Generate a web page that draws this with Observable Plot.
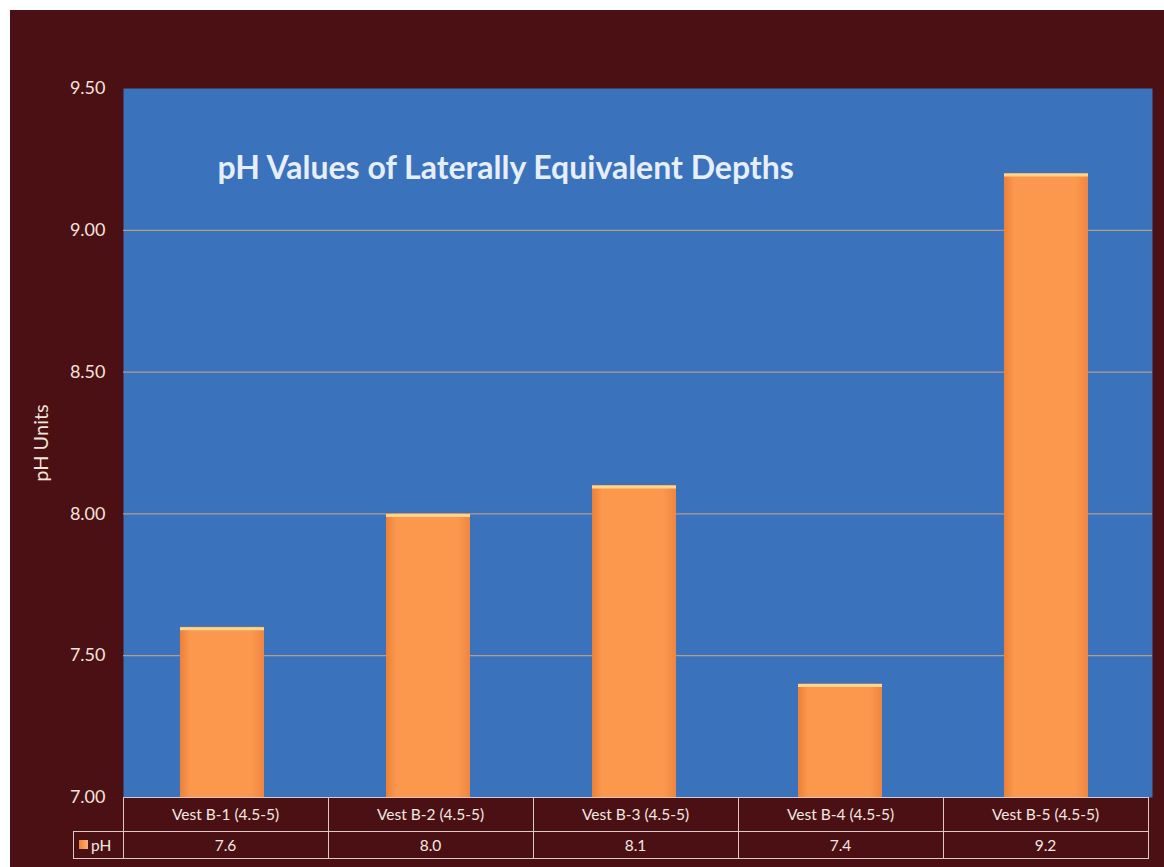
<!DOCTYPE html>
<html>
<head>
<meta charset="utf-8">
<script src="https://cdn.jsdelivr.net/npm/d3@7"></script>
<script src="https://cdn.jsdelivr.net/npm/@observablehq/plot@0.6"></script>
<style>
  body { margin: 0; background: #ffffff; font-family: Lato, "Open Sans", sans-serif; }
  #wrap { position: absolute; left: 10px; top: 10px; width: 1154px; height: 857px; background: #4a1013; overflow: hidden; }
  #wrap svg { position: absolute; left: 0; top: 0; overflow: visible; }
  .cell { position: absolute; box-sizing: border-box; color: #f4e8e2; font-size: 15.5px; display: flex; align-items: center; justify-content: center; }
  .hl { position: absolute; height: 1px; background: #dcc8c4; }
  .vl { position: absolute; width: 1px; background: #dcc8c4; }
</style>
</head>
<body>
<div id="wrap"></div>
<script>
const categories = ["Vest B-1 (4.5-5)", "Vest B-2 (4.5-5)", "Vest B-3 (4.5-5)", "Vest B-4 (4.5-5)", "Vest B-5 (4.5-5)"];
const phValues = [7.6, 8.0, 8.1, 7.4, 9.2];
const yTicks = [7.0, 7.5, 8.0, 8.5, 9.0, 9.5];
const gridValues = [7.5, 8.0, 8.5, 9.0];
const seriesName = "pH";
const chartTitle = "pH Values of Laterally Equivalent Depths";
const yLabel = "pH Units";

const data = categories.map((c, i) => ({cat: c, v: phValues[i]}));

const W = 1154, H = 800;
const mL = 113, mR = 12, mT = 78, mB = 13;
const plot = Plot.plot({
  width: W,
  height: H,
  marginLeft: mL,
  marginRight: mR,
  marginTop: mT,
  marginBottom: mB,
  style: {background: "transparent", color: "#f2e4dc", fontFamily: "Lato, 'Open Sans', sans-serif"},
  x: {domain: categories, range: [mL - 4, W - mR - 3], paddingInner: 0.59, paddingOuter: 0.295, axis: null},
  y: {domain: [7, 9.5]},
  marks: [
    Plot.frame({fill: "#3a72bb", stroke: "none"}),
    Plot.ruleY(gridValues, {stroke: "#caa286", strokeWidth: 1.2, strokeOpacity: 0.85}),
    Plot.axisY({ticks: yTicks, tickFormat: d => d.toFixed(2), tickSize: 0, tickPadding: 18, fontSize: 18,
      label: yLabel, labelAnchor: "center", labelArrow: "none", labelOffset: 90}),
    Plot.barY(data, {x: "cat", y: "v", fill: "url(#barGrad)", clip: true}),
    Plot.tickY(data, {x: "cat", y: "v", stroke: "#ffd68c", strokeWidth: 3, dy: 1.5}),
    Plot.text([chartTitle], {frameAnchor: "top-left", dx: 94, dy: 80, textAnchor: "start", lineAnchor: "middle",
      fontSize: 32, fontWeight: "bold", fill: "#e6eef9"})
  ]
});

// gradient for bars
const ns = "http://www.w3.org/2000/svg";
const defs = document.createElementNS(ns, "defs");
defs.innerHTML = `<linearGradient id="barGrad" x1="0" x2="1" y1="0" y2="0">
  <stop offset="0" stop-color="#ec8038"/>
  <stop offset="0.12" stop-color="#fb984e"/>
  <stop offset="0.85" stop-color="#fb984e"/>
  <stop offset="1" stop-color="#ef8540"/>
</linearGradient>`;
plot.insertBefore(defs, plot.firstChild);

// y-axis label font size
plot.querySelectorAll("text").forEach(t => { if (t.textContent === yLabel) { t.setAttribute("font-size", 20); } });

const wrap = document.getElementById("wrap");
wrap.appendChild(plot);

// data table below the chart, aligned to the plot frame
const frameBottom = H - mB;
const row1H = 34, row2H = 27;
const legendLeft = 63;
const left = mL;
const right = W - mR - 4;
const cellW = (right - left) / categories.length;

function add(cls, style, html) {
  const d = document.createElement("div");
  d.className = cls;
  Object.assign(d.style, style);
  if (html != null) d.innerHTML = html;
  wrap.appendChild(d);
  return d;
}
add("hl", {left: left + "px", top: frameBottom + "px", width: (right - left) + "px"});
add("hl", {left: legendLeft + "px", top: (frameBottom + row1H) + "px", width: (right - legendLeft + 1) + "px"});
add("hl", {left: legendLeft + "px", top: (frameBottom + row1H + row2H) + "px", width: (right - legendLeft + 1) + "px"});
add("vl", {left: legendLeft + "px", top: (frameBottom + row1H) + "px", height: (row2H + 1) + "px"});
categories.forEach((c, i) => {
  const x0 = left + i * cellW;
  add("vl", {left: x0 + "px", top: frameBottom + "px", height: (row1H + row2H + 1) + "px"});
  add("cell", {left: x0 + "px", top: frameBottom + "px", width: cellW + "px", height: row1H + "px"}, c);
  add("cell", {left: x0 + "px", top: (frameBottom + row1H) + "px", width: cellW + "px", height: row2H + "px"}, phValues[i].toFixed(1));
});
add("vl", {left: right + "px", top: frameBottom + "px", height: (row1H + row2H + 1) + "px"});
add("cell", {left: legendLeft + "px", top: (frameBottom + row1H) + "px", width: (left - legendLeft) + "px", height: row2H + "px", justifyContent: "flex-start", paddingLeft: "6px"},
  `<span style="display:inline-block;width:9px;height:9px;background:linear-gradient(90deg,#ec8038,#fcb070);margin-right:3px"></span>${seriesName}`);
</script>
</body>
</html>
